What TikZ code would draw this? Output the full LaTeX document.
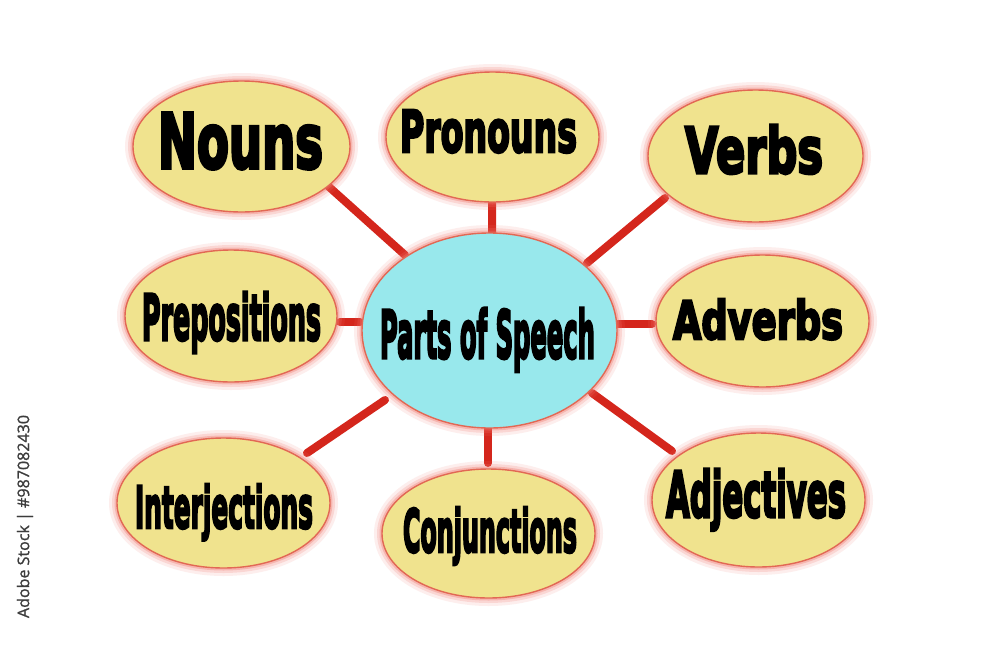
\documentclass[tikz,border=0pt]{standalone}
\usepackage{fontspec}
\usepackage{graphicx}
\newfontfamily\imp{DejaVu Sans}[BoldFeatures={FakeBold=5}]
\newfontfamily\wm{Open Sans}[FakeBold=1]
\usetikzlibrary{shapes.geometric,backgrounds}
\definecolor{ellyellow}{RGB}{240,227,142}
\definecolor{ellcyan}{RGB}{152,232,236}
\definecolor{linkred}{RGB}{212,38,28}
\definecolor{rimred}{RGB}{226,104,84}
\definecolor{glowred}{RGB}{240,120,110}
\definecolor{wmgray}{RGB}{60,60,60}
\newlength\px \setlength\px{0.02cm}
\newcommand\lbl[3]{\resizebox{#1\px}{#2\px}{\imp\bfseries #3}}
\begin{document}
\begin{tikzpicture}[x=0.02cm,y=-0.02cm,
 bubble/.style={ellipse, inner sep=0pt, outer sep=0pt, fill=ellyellow, draw=rimred, line width=1.4\px,
   preaction={draw=glowred, line width=16\px, opacity=0.12},
   preaction={draw=glowred, line width=10\px, opacity=0.2},
   preaction={draw=glowred, line width=5\px, opacity=0.35}},
 hub/.style={bubble, fill=ellcyan},
 word/.style={anchor=base, inner sep=0pt, text=black},
 link/.style={draw=linkred, line width=8\px, line cap=round}]
\useasboundingbox (0,0) rectangle (1000,656);
% bubbles
\node[bubble, minimum width=217\px, minimum height=131\px] (nouns) at (241.5,146.5) {};
\node[bubble, minimum width=213\px, minimum height=130\px] (pron) at (492.5,137) {};
\node[bubble, minimum width=215\px, minimum height=132\px] (verbs) at (755.5,156) {};
\node[bubble, minimum width=212\px, minimum height=132\px] (prep) at (231,316) {};
\node[hub, minimum width=255\px, minimum height=195\px] (hub) at (489.5,330.5) {};
\node[bubble, minimum width=213\px, minimum height=132\px] (adv) at (762.5,321) {};
\node[bubble, minimum width=213\px, minimum height=130\px] (interj) at (223.5,503) {};
\node[bubble, minimum width=213\px, minimum height=129\px] (conj) at (488.5,533.5) {};
\node[bubble, minimum width=213\px, minimum height=134\px] (adj) at (758.5,500) {};
% labels
\node[word] (tnouns) at (240.5,168) {\lbl{165}{55}{Nouns}};
\node[word] (tpron) at (488.5,152) {\lbl{177}{42}{Pronouns}};
\node[word] (tverbs) at (754,173) {\lbl{138}{48}{Verbs}};
\node[word] (tprep) at (231.5,340) {\lbl{179}{48}{Prepositions}};
\node[word] (thub) at (487.5,358) {\lbl{215}{50}{Parts of Speech}};
\node[word] (tadv) at (758,339) {\lbl{170}{40}{Adverbs}};
\node[word] (tinterj) at (224,528) {\lbl{178}{44}{Interjections}};
\node[word] (tconj) at (490,552) {\lbl{174}{45}{Conjunctions}};
\node[word] (tadj) at (756,517) {\lbl{180}{48}{Adjectives}};
% watermark text
\node[rotate=90, text=wmgray, inner sep=0pt] (wm) at (25,516.5) {\resizebox{203\px}{!}{\wm Adobe Stock | \#987082430}};
\begin{pgfonlayer}{background}
\fill[white] (0,0) rectangle (1000,656);
\draw[link] ([shift={(-84.5,-75.5)}]hub.center) -- ([shift={(86.5,39.5)}]nouns.center);
\draw[link] ([shift={(2.5,-98.5)}]hub.center) -- ([shift={(-0.5,66)}]pron.center);
\draw[link] ([shift={(97.5,-67.5)}]hub.center) -- ([shift={(-90.5,42)}]verbs.center);
\draw[link] ([shift={(-129.5,-8.5)}]hub.center) -- ([shift={(109,6)}]prep.center);
\draw[link] ([shift={(128.5,-6.5)}]hub.center) -- ([shift={(-110.5,3)}]adv.center);
\draw[link] ([shift={(-104.5,69.5)}]hub.center) -- ([shift={(83.5,-50)}]interj.center);
\draw[link] ([shift={(-1.5,97.5)}]hub.center) -- ([shift={(-0.5,-70.5)}]conj.center);
\draw[link] ([shift={(102.5,62.5)}]hub.center) -- ([shift={(-86.5,-49)}]adj.center);
\end{pgfonlayer}
\end{tikzpicture}
\end{document}
